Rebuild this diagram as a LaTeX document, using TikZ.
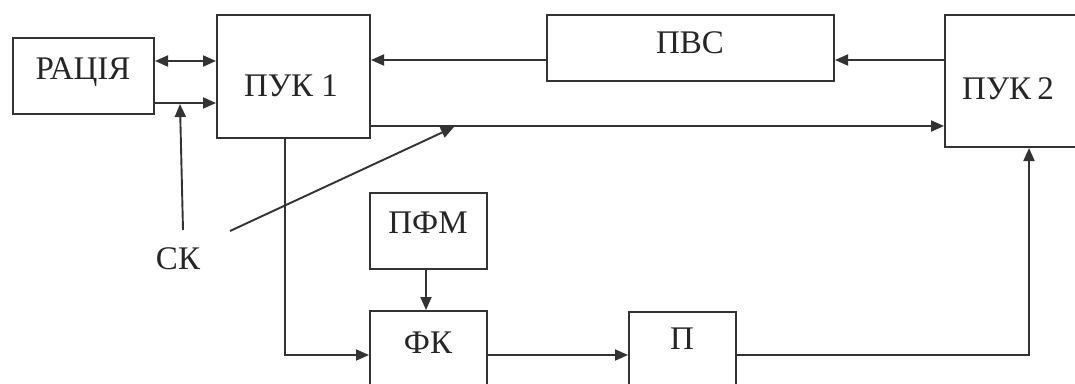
\documentclass[tikz,border=0pt]{standalone}
\usepackage{fontspec}
\setmainfont{Liberation Serif}
\usetikzlibrary{arrows.meta}
\begin{document}
\begin{tikzpicture}[x=1pt,y=-1pt,
  box/.style={draw=black!80,line width=2pt,inner sep=0pt,rectangle},
  lbl/.style={inner sep=0pt,anchor=base,text=black!85,font=\fontsize{33}{38}\selectfont},
  conn/.style={draw=black!80,line width=1.9pt},
  arr/.style={conn,-{Triangle[length=13pt,width=11pt]}},
  darr/.style={conn,{Triangle[length=13pt,width=11pt]}-{Triangle[length=13pt,width=11pt]}}]
\clip (0,0) rectangle (1075,383);
\fill[white] (0,0) rectangle (1075,383);
% boxes
\node[box,minimum width=141pt,minimum height=76pt] (ratsia) at (83.5,76) {};
\node[box,minimum width=153pt,minimum height=123pt] (puk1) at (293.5,76.5) {};
\node[box,minimum width=287pt,minimum height=66pt] (pvs) at (690.5,48) {};
\node[box,minimum width=145pt,minimum height=132pt] (puk2) at (1017.5,81) {};
\node[box,minimum width=117pt,minimum height=76pt] (pfm) at (428.5,231) {};
\node[box,minimum width=117pt,minimum height=100pt] (fk) at (428.5,361) {};
\node[box,minimum width=107pt,minimum height=100pt] (p) at (682.5,362) {};
% labels
\node[lbl] (tratsia) at (83,79) {РАЦІЯ};
\node[lbl] (tpuk1) at (291,96) {ПУК 1};
\node[lbl] (tpvs) at (690,53) {ПВС};
\node[lbl] (tpuk2) at (1008,99) {ПУК\kern-2pt{} 2};
\node[lbl] (tpfm) at (428,233) {ПФМ};
\node[lbl] (tfk) at (428,353) {ФК};
\node[lbl] (tp) at (682,349) {П};
\node[lbl] (tck) at (178,269) {СК};
% coordinates
\coordinate (ck1) at (183,230);
\coordinate (ck1t) at (180,104);
\coordinate (ck2) at (230,231);
\coordinate (ck2t) at (454,127);
\coordinate (bend1) at (285,355);
\coordinate (bend2) at (1029,355);
% connectors
\draw[darr] (ratsia.east |- 0,61) -- (puk1.west |- 0,61);
\draw[arr] (ratsia.east |- 0,103) -- (puk1.west |- 0,103);
\draw[arr] (pvs.west |- 0,60) -- (puk1.east |- 0,60);
\draw[arr] (puk2.west |- 0,60) -- (pvs.east |- 0,60);
\draw[arr] (puk1.east |- 0,126) -- (puk2.west |- 0,126);
\draw[arr] (ck1) -- (ck1t);
\draw[arr] (ck2) -- (ck2t);
\draw[arr] (puk1.south -| bend1) -- (bend1) -- (fk.west |- bend1);
\draw[arr] (pfm.south -| 426,0) -- (fk.north -| 426,0);
\draw[arr] (fk.east |- 0,355) -- (p.west |- 0,355);
\draw[arr] (p.east |- bend2) -- (bend2) -- (puk2.south -| bend2);
\end{tikzpicture}
\end{document}
